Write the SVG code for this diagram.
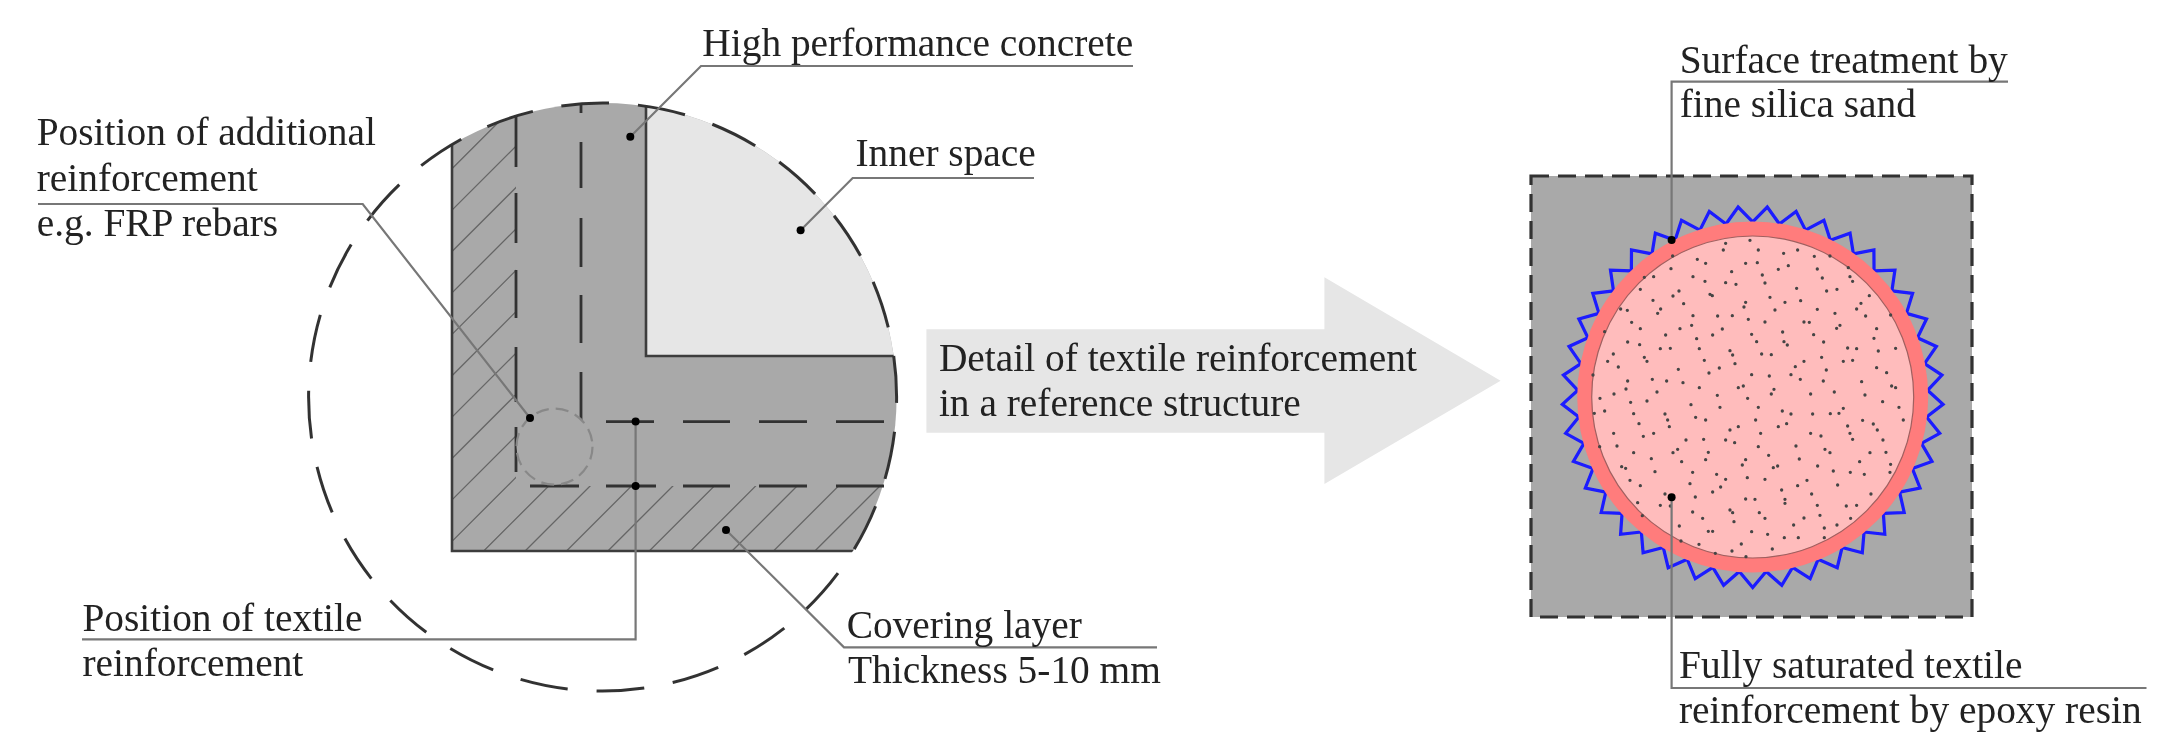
<svg xmlns="http://www.w3.org/2000/svg" xmlns:xlink="http://www.w3.org/1999/xlink" width="2167" height="746" viewBox="0 0 2167 746">
<style>
text{font-family:"Liberation Serif","Times New Roman",serif;font-size:39.4px;fill:#222}
.lead{fill:none;stroke:#777;stroke-width:2.2}
.dot{fill:#000}
.edge{fill:none;stroke:#3c3c3c;stroke-width:2.6}
.dash{fill:none;stroke:#333;stroke-width:2.8}
.hatch{fill:none;stroke:#666;stroke-width:1.3}
.sand{fill:none;stroke:#444;stroke-width:10;stroke-linecap:round}
.tooth{fill:none;stroke:#1a1aff;stroke-width:3.2;stroke-linejoin:miter}
</style>
<defs>
<filter id="soft" filterUnits="userSpaceOnUse" x="0" y="0" width="2167" height="746"><feGaussianBlur stdDeviation="0.7"/></filter>
<clipPath id="disc"><circle cx="602.6" cy="397" r="294"/></clipPath>
<clipPath id="cover"><path d="M452 90H516V486H900V551H452Z"/></clipPath>
<path id="t" class="tooth" d="M1739.3 571.5L1752.7 587.5L1766.1 571.5"/>
</defs>
<rect width="2167" height="746" fill="#fff"/>
<g filter="url(#soft)">
<g id="section">
<g clip-path="url(#disc)">
<path fill="#a9a9a9" d="M452 90H900V551H452Z"/>
<path fill="#e6e6e6" d="M646 90H900V356H646Z"/>
<g clip-path="url(#cover)">
<path class="hatch" d="M452 168.7L520.7 100M452 210.1L562.1 100M452 251.5L603.5 100M452 292.9L644.9 100M452 334.3L686.3 100M452 375.7L727.7 100M452 417.1L769.1 100M452 458.5L810.5 100M452 499.9L851.9 100M452 541.3L893.3 100M452 582.7L934.7 100M483.7 551L976.1 58.6M525.1 551L1017.5 58.6M566.5 551L1058.9 58.6M607.9 551L1100.3 58.6M649.3 551L1141.7 58.6M690.7 551L1183.1 58.6M732.1 551L1224.5 58.6M773.5 551L1265.9 58.6M814.9 551L1307.3 58.6M856.3 551L1348.7 58.6"/>
</g>
<path class="edge" d="M452 90V551H900M646 90V356H900"/>
</g>
<path class="dash" d="M516 115V167M516 193V243M516 270V318M516 347V402M516 427V472M530 486H579M606 486H656M683 486H730M759 486H807M836 486H884M581 103V113M581 142V188M581 218V267M581 295V343M581 372V420M606 421.7H654M683 421.7H730M759 421.7H807M836 421.7H884"/>
<circle cx="554.5" cy="446.7" r="38" fill="#a9a9a9" stroke="#888" stroke-width="2.2" stroke-dasharray="13 7"/>
<circle cx="602.6" cy="397" r="294" fill="none" stroke="#333" stroke-width="3" stroke-dasharray="48 28.97" stroke-dashoffset="-34.9"/>
</g>
<g id="arrow">
<path fill="#e6e6e6" d="M926.4 329.3H1324.4V277.3L1500.6 380.7L1324.4 484V432.7H926.4Z"/>
<text x="938.9" y="371">Detail of textile reinforcement</text>
<text x="938.9" y="415.7">in a reference structure</text>
</g>
<g id="detail">
<rect x="1531" y="176" width="441" height="441" fill="#a9a9a9"/>
<rect x="1531" y="176" width="441" height="441" fill="none" stroke="#333" stroke-width="3.2" stroke-dasharray="18 9"/>
<g id="teeth">
<use href="#t"/>
<use href="#t" transform="rotate(8.78 1752.7 397)"/><use href="#t" transform="rotate(17.56 1752.7 397)"/><use href="#t" transform="rotate(26.34 1752.7 397)"/><use href="#t" transform="rotate(35.12 1752.7 397)"/><use href="#t" transform="rotate(43.9 1752.7 397)"/><use href="#t" transform="rotate(52.68 1752.7 397)"/><use href="#t" transform="rotate(61.46 1752.7 397)"/><use href="#t" transform="rotate(70.24 1752.7 397)"/><use href="#t" transform="rotate(79.02 1752.7 397)"/><use href="#t" transform="rotate(87.8 1752.7 397)"/><use href="#t" transform="rotate(96.59 1752.7 397)"/><use href="#t" transform="rotate(105.37 1752.7 397)"/><use href="#t" transform="rotate(114.15 1752.7 397)"/><use href="#t" transform="rotate(122.93 1752.7 397)"/><use href="#t" transform="rotate(131.71 1752.7 397)"/><use href="#t" transform="rotate(140.49 1752.7 397)"/><use href="#t" transform="rotate(149.27 1752.7 397)"/><use href="#t" transform="rotate(158.05 1752.7 397)"/><use href="#t" transform="rotate(166.83 1752.7 397)"/><use href="#t" transform="rotate(175.61 1752.7 397)"/><use href="#t" transform="rotate(184.39 1752.7 397)"/><use href="#t" transform="rotate(193.17 1752.7 397)"/><use href="#t" transform="rotate(201.95 1752.7 397)"/><use href="#t" transform="rotate(210.73 1752.7 397)"/><use href="#t" transform="rotate(219.51 1752.7 397)"/><use href="#t" transform="rotate(228.29 1752.7 397)"/><use href="#t" transform="rotate(237.07 1752.7 397)"/><use href="#t" transform="rotate(245.85 1752.7 397)"/><use href="#t" transform="rotate(254.63 1752.7 397)"/><use href="#t" transform="rotate(263.41 1752.7 397)"/><use href="#t" transform="rotate(272.2 1752.7 397)"/><use href="#t" transform="rotate(280.98 1752.7 397)"/><use href="#t" transform="rotate(289.76 1752.7 397)"/><use href="#t" transform="rotate(298.54 1752.7 397)"/><use href="#t" transform="rotate(307.32 1752.7 397)"/><use href="#t" transform="rotate(316.1 1752.7 397)"/><use href="#t" transform="rotate(324.88 1752.7 397)"/><use href="#t" transform="rotate(333.66 1752.7 397)"/><use href="#t" transform="rotate(342.44 1752.7 397)"/><use href="#t" transform="rotate(351.22 1752.7 397)"/>
</g>
<circle cx="1752.7" cy="397" r="175.5" fill="#ff7b7b"/>
<circle cx="1752.7" cy="397" r="161" fill="#ffbcbc" stroke="#a06060" stroke-width="1.2"/>
<path class="sand" transform="translate(1500 160) scale(.3333)" d="M677 250h0M670 270h0M750 241h0M775 270h0M851 280h0M893 270h0M943 289h0M990 288h0M518 288h0M592 298h0M617 310h0M737 310h0M772 308h0M865 317h0M835 328h0M513 326h0M695 335h0M787 345h0M952 327h0M1045 323h0M433 352h0M461 350h0M579 350h0M967 354h0M1050 350h0M1058 364h0M615 364h0M677 368h0M708 373h0M795 369h0M421 388h0M890 385h0M980 393h0M1011 388h0M537 393h0M519 408h0M630 403h0M637 407h0M810 412h0M1108 407h0M459 421h0M855 427h0M902 422h0M551 431h0M737 427h0M732 441h0M1083 430h0M1070 447h0M362 447h0M382 451h0M482 447h0M473 460h0M825 450h0M952 448h0M1005 460h0M1097 468h0M579 467h0M653 468h0M697 467h0M1172 465h0M745 478h0M395 487h0M795 486h0M912 486h0M928 487h0M575 496h0M1020 496h0M1010 505h0M421 506h0M540 506h0M667 507h0M1130 506h0M314 515h0M497 525h0M638 525h0M755 523h0M848 516h0M941 524h0M590 536h0M1122 535h0M770 545h0M383 546h0M971 546h0M852 545h0M862 555h0M419 554h0M481 566h0M511 565h0M598 566h0M1043 564h0M1070 566h0M1187 565h0M690 572h0M698 585h0M1135 573h0M340 582h0M785 582h0M814 584h0M965 592h0M433 592h0M441 604h0M323 604h0M613 601h0M912 604h0M1030 604h0M1058 601h0M705 611h0M355 621h0M535 628h0M658 624h0M886 620h0M1130 623h0M979 630h0M627 639h0M1160 638h0M279 645h0M755 644h0M808 648h0M873 644h0M457 658h0M500 663h0M383 663h0M549 668h0M901 658h0M970 663h0M1085 665h0M715 683h0M730 678h0M598 683h0M378 687h0M1175 678h0M1187 683h0M822 688h0M814 702h0M342 702h0M471 696h0M1003 696h0M932 702h0M652 706h0M1095 705h0M300 715h0M743 715h0"/>
<path class="sand" transform="translate(1500 400) scale(.3333)" d="M392 7h0M441 3h0M573 14h0M660 22h0M775 22h0M847 33h0M873 42h0M1017 40h0M1030 25h0M1148 5h0M1197 22h0M283 40h0M314 33h0M401 41h0M938 42h0M991 41h0M495 42h0M503 60h0M587 52h0M617 60h0M767 60h0M860 71h0M835 80h0M1043 78h0M1210 60h0M1088 61h0M1120 72h0M417 71h0M508 80h0M715 80h0M690 90h0M1050 100h0M1058 118h0M1132 90h0M341 100h0M461 100h0M430 109h0M782 100h0M932 100h0M963 108h0M558 120h0M611 118h0M677 120h0M704 128h0M1149 120h0M351 138h0M299 140h0M888 138h0M775 140h0M975 148h0M990 158h0M533 148h0M519 158h0M401 158h0M625 157h0M1110 158h0M1158 157h0M806 166h0M454 176h0M617 179h0M898 177h0M737 179h0M545 185h0M1079 185h0M727 195h0M833 198h0M820 203h0M953 198h0M365 200h0M377 205h0M1172 193h0M578 217h0M465 215h0M1000 213h0M1051 217h0M1093 223h0M650 223h0M1170 217h0M390 241h0M677 238h0M742 233h0M795 238h0M921 241h0M570 251h0M421 257h0M662 261h0M893 257h0M1013 255h0M845 270h0M638 276h0M935 282h0M1113 282h0M495 282h0M586 291h0M737 297h0M765 298h0M855 298h0M855 310h0M413 308h0M481 316h0M511 318h0M952 316h0M1039 318h0M1070 316h0M690 330h0M698 338h0M578 336h0M778 338h0M960 346h0M427 347h0M795 355h0M608 355h0M912 354h0M1052 355h0M702 365h0M881 375h0M1011 375h0M538 378h0M973 384h0M625 394h0M638 394h0M755 395h0M803 403h0M853 413h0M895 413h0M973 413h0M543 423h0M597 433h0M724 432h0M817 447h0M696 453h0M646 460h0M738 470h0"/>
</g>
<g id="connectors">
<path class="lead" d="M38 204H362.7L530 418"/>
<path class="lead" d="M1133 66H701L630.3 136.7"/>
<path class="lead" d="M1034 178H852.7L800.6 230.3"/>
<path class="lead" d="M82 639.3H635.6V421"/>
<path class="lead" d="M1157 647.3H844L726 530"/>
<path class="lead" d="M2008 81.7H1671.6V240"/>
<path class="lead" d="M2146.5 688H1671.6V497.3"/>
<g class="dot">
<circle cx="630.3" cy="136.7" r="4"/><circle cx="800.6" cy="230.3" r="4"/><circle cx="530" cy="418" r="4"/><circle cx="635.6" cy="421.5" r="4"/><circle cx="635.6" cy="486" r="4"/><circle cx="726" cy="530" r="4"/><circle cx="1671.6" cy="240" r="4"/><circle cx="1671.6" cy="497.3" r="4"/>
</g>
</g>
<g id="label-additional"><text x="36.7" y="145">Position of additional</text><text x="36.7" y="191">reinforcement</text><text x="36.7" y="236">e.g. FRP rebars</text></g>
<g id="label-concrete"><text x="702.3" y="56">High performance concrete</text></g>
<g id="label-inner"><text x="855.4" y="165.7">Inner space</text></g>
<g id="label-textile"><text x="82.4" y="630.7">Position of textile</text><text x="82.4" y="676">reinforcement</text></g>
<g id="label-cover"><text x="846.7" y="638.3">Covering layer</text><text x="848" y="683">Thickness 5-10 mm</text></g>
<g id="label-surface"><text x="1679.7" y="72.7">Surface treatment by</text><text x="1679.7" y="117.3">fine silica sand</text></g>
<g id="label-fully"><text x="1679" y="678.3">Fully saturated textile</text><text x="1679" y="723.3">reinforcement by epoxy resin</text></g>
</g>
</svg>
